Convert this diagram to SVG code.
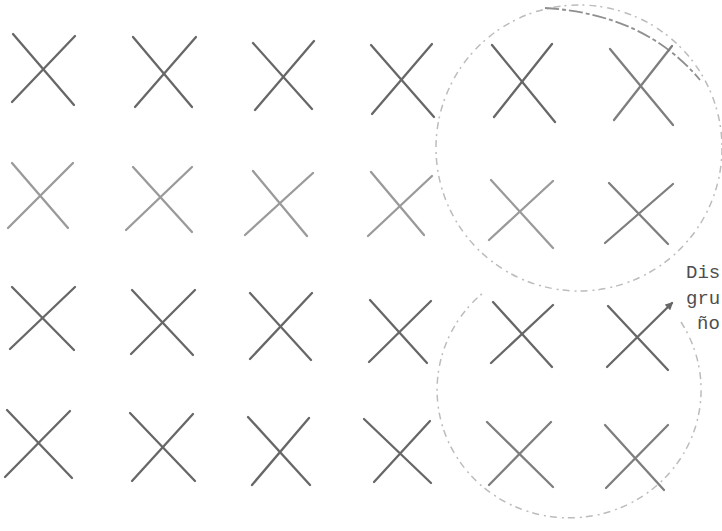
<svg xmlns="http://www.w3.org/2000/svg" width="722" height="531" viewBox="0 0 722 531">
<style>
.x line{stroke-width:2.3;stroke-linecap:round;fill:none}
.d line{stroke:#676767}
.m line{stroke:#7e7e7e}
.l line{stroke:#9a9a9a}
.ring{fill:none;stroke:#bcbcbc;stroke-width:1.5;stroke-dasharray:7 4 2 5}
.lbl{font-family:"Liberation Mono","Courier New",monospace;font-size:19px;fill:#4e4e4e}
</style>
<defs>
<marker id="ah" viewBox="0 0 10 10" refX="8" refY="5" markerWidth="8" markerHeight="8" orient="auto" markerUnits="userSpaceOnUse">
<path d="M0,0 L10,5 L0,10 Z" fill="#676767"/>
</marker>
</defs>
<rect width="722" height="531" fill="#fff"/>
<g id="groups">
<circle id="group-top" class="ring" cx="579" cy="148" r="143"/>
<path d="M545,8 Q645,14 700,80" fill="none" stroke="#8f8f8f" stroke-width="1.8" stroke-dasharray="14 3 4 3"/>
<path id="group-bottom" class="ring" d="M681,322 A132,128 0 1 1 484,292"/>
</g>
<g id="nodes">
<g id="x-1-1" class="x d"><line x1="13" y1="34" x2="74" y2="105"/><line x1="12" y1="102" x2="75" y2="36"/></g>
<g id="x-1-2" class="x d"><line x1="133" y1="37" x2="192" y2="107"/><line x1="135" y1="107" x2="196" y2="37"/></g>
<g id="x-1-3" class="x d"><line x1="253" y1="43" x2="312" y2="109"/><line x1="255" y1="110" x2="314" y2="41"/></g>
<g id="x-1-4" class="x d"><line x1="371" y1="45" x2="434" y2="117"/><line x1="372" y1="114" x2="432" y2="44"/></g>
<g id="x-1-5" class="x d"><line x1="492" y1="45" x2="555" y2="122"/><line x1="494" y1="117" x2="552" y2="44"/></g>
<g id="x-1-6" class="x m"><line x1="610" y1="49" x2="673" y2="125"/><line x1="614" y1="120" x2="672" y2="46"/></g>

<g id="x-2-1" class="x l"><line x1="12" y1="163" x2="68" y2="228"/><line x1="8" y1="228" x2="73" y2="163"/></g>
<g id="x-2-2" class="x l"><line x1="133" y1="167" x2="192" y2="232"/><line x1="126" y1="230" x2="192" y2="167"/></g>
<g id="x-2-3" class="x l"><line x1="253" y1="171" x2="307" y2="236"/><line x1="245" y1="235" x2="313" y2="173"/></g>
<g id="x-2-4" class="x l"><line x1="371" y1="172" x2="424" y2="235"/><line x1="368" y1="236" x2="432" y2="176"/></g>
<g id="x-2-5" class="x l"><line x1="491" y1="180" x2="553" y2="248"/><line x1="489" y1="240" x2="553" y2="181"/></g>
<g id="x-2-6" class="x m"><line x1="609" y1="183" x2="668" y2="244"/><line x1="605" y1="243" x2="673" y2="184"/></g>

<g id="x-3-1" class="x d"><line x1="12" y1="287" x2="74" y2="350"/><line x1="10" y1="349" x2="75" y2="287"/></g>
<g id="x-3-2" class="x d"><line x1="132" y1="290" x2="193" y2="355"/><line x1="131" y1="354" x2="195" y2="290"/></g>
<g id="x-3-3" class="x d"><line x1="250" y1="293" x2="311" y2="360"/><line x1="250" y1="359" x2="312" y2="293"/></g>
<g id="x-3-4" class="x d"><line x1="370" y1="300" x2="427" y2="363"/><line x1="369" y1="362" x2="431" y2="301"/></g>
<g id="x-3-5" class="x d"><line x1="493" y1="302" x2="552" y2="367"/><line x1="491" y1="363" x2="553" y2="305"/></g>
<g id="x-3-6" class="x d"><line x1="608" y1="306" x2="668" y2="370" stroke-width="2.8"/><line x1="607" y1="367" x2="672" y2="303" marker-end="url(#ah)"/></g>

<g id="x-4-1" class="x d"><line x1="7" y1="410" x2="72" y2="478"/><line x1="5" y1="477" x2="70" y2="411"/></g>
<g id="x-4-2" class="x d"><line x1="130" y1="413" x2="195" y2="481"/><line x1="132" y1="481" x2="193" y2="414"/></g>
<g id="x-4-3" class="x d"><line x1="248" y1="417" x2="310" y2="485"/><line x1="252" y1="485" x2="309" y2="418"/></g>
<g id="x-4-4" class="x d"><line x1="364" y1="419" x2="431" y2="483"/><line x1="374" y1="482" x2="430" y2="421"/></g>
<g id="x-4-5" class="x m"><line x1="487" y1="422" x2="553" y2="487"/><line x1="489" y1="485" x2="551" y2="422"/></g>
<g id="x-4-6" class="x m"><line x1="605" y1="425" x2="664" y2="490"/><line x1="606" y1="488" x2="668" y2="425"/></g>
</g>
<g id="label">
<text class="lbl" x="686" y="278">Dis</text>
<text class="lbl" x="686" y="304">gru</text>
<text class="lbl" x="697" y="329">ño</text>
</g>
</svg>
